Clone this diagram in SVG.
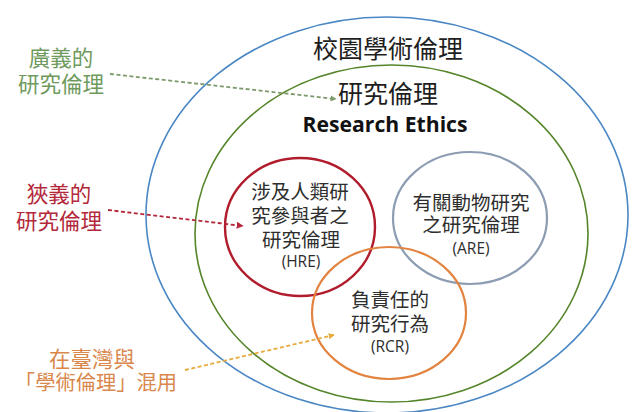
<svg xmlns="http://www.w3.org/2000/svg" width="634" height="412" viewBox="0 0 634 412">
  <style>
    .ring { fill: none; }
    .cjk { font-family: "Noto Sans CJK TC", "Noto Sans", sans-serif; text-anchor: middle; }
    .title { font-size: 25px; fill: #1e1e1e; }
    .inner { font-size: 19.5px; fill: #2e2e2e; }
    .abbr { font-family: "Open Sans", "Liberation Sans", sans-serif; font-size: 15.5px; }
    .label { font-size: 21.5px; }
    .conn { fill: none; stroke-width: 1.8; stroke-dasharray: 4 2.5; }
  </style>
  <defs>
    <marker id="ahGreen" viewBox="0 0 10 10" refX="9" refY="5" markerWidth="6" markerHeight="6" orient="auto" markerUnits="userSpaceOnUse">
      <path d="M0,0 L10,5 L0,10 z" fill="#7d9a6c"/>
    </marker>
    <marker id="ahRed" viewBox="0 0 10 10" refX="9" refY="5" markerWidth="7" markerHeight="7" orient="auto" markerUnits="userSpaceOnUse">
      <path d="M0,0 L10,5 L0,10 z" fill="#b3283a"/>
    </marker>
    <marker id="ahOrange" viewBox="0 0 10 10" refX="9" refY="5" markerWidth="6" markerHeight="6" orient="auto" markerUnits="userSpaceOnUse">
      <path d="M0,0 L10,5 L0,10 z" fill="#e6ab3c"/>
    </marker>
  </defs>
  <rect width="634" height="412" fill="#ffffff"/>

  <g id="campus-ethics">
    <ellipse class="ring" cx="387" cy="215" rx="241" ry="198" stroke="#4a87c4" stroke-width="1.6"/>
    <text class="cjk title" x="388" y="58">校園學術倫理</text>
  </g>

  <g id="research-ethics">
    <ellipse class="ring" cx="391.5" cy="233.5" rx="196.5" ry="168.5" stroke="#55852a" stroke-width="1.6"/>
    <text class="cjk title" x="388" y="103">研究倫理</text>
    <text x="385" y="132" font-family="'Open Sans', 'Liberation Sans', sans-serif" font-weight="bold" font-size="21" fill="#111" text-anchor="middle" textLength="165" lengthAdjust="spacingAndGlyphs">Research Ethics</text>
  </g>

  <g id="hre">
    <ellipse class="ring" cx="300" cy="227" rx="75" ry="69" stroke="#b01c2c" stroke-width="2.4"/>
    <text class="cjk inner" y="199"><tspan x="300">涉及人類研</tspan><tspan x="300" dy="24">究參與者之</tspan><tspan x="301" dy="24">研究倫理</tspan><tspan class="abbr" x="301" dy="20">(HRE)</tspan></text>
  </g>

  <g id="are">
    <ellipse class="ring" cx="470" cy="218" rx="77" ry="66" stroke="#8c9cb2" stroke-width="2.2"/>
    <text class="cjk inner" y="210"><tspan x="471">有關動物研究</tspan><tspan x="471" dy="22">之研究倫理</tspan><tspan class="abbr" x="471" dy="22">(ARE)</tspan></text>
  </g>

  <g id="rcr">
    <ellipse class="ring" cx="389" cy="313" rx="77" ry="66" stroke="#e2833f" stroke-width="2.2"/>
    <text class="cjk inner" y="307"><tspan x="390">負責任的</tspan><tspan x="390" dy="24">研究行為</tspan><tspan class="abbr" x="390" dy="21">(RCR)</tspan></text>
  </g>

  <g id="label-broad">
    <text class="cjk label" y="66" fill="#6f9a5e"><tspan x="61">廣義的</tspan><tspan x="61" dy="26">研究倫理</tspan></text>
  </g>

  <g id="label-narrow">
    <text class="cjk label" y="202" fill="#b3283a"><tspan x="59">狹義的</tspan><tspan x="59" dy="27">研究倫理</tspan></text>
  </g>

  <g id="label-rcr">
    <text class="cjk label" y="367" fill="#d9874c" font-size="21"><tspan x="92">在臺灣與</tspan><tspan x="96" dy="23" font-size="20.3">「學術倫理」混用</tspan></text>
  </g>

  <g id="connectors">
    <line class="conn" x1="110" y1="74" x2="336" y2="99" stroke="#7d9a6c" marker-end="url(#ahGreen)"/>
    <line class="conn" x1="108" y1="210" x2="243" y2="226" stroke="#b3283a" marker-end="url(#ahRed)"/>
    <line class="conn" x1="185" y1="370" x2="334" y2="335" stroke="#e6ab3c" marker-end="url(#ahOrange)"/>
  </g>
</svg>
